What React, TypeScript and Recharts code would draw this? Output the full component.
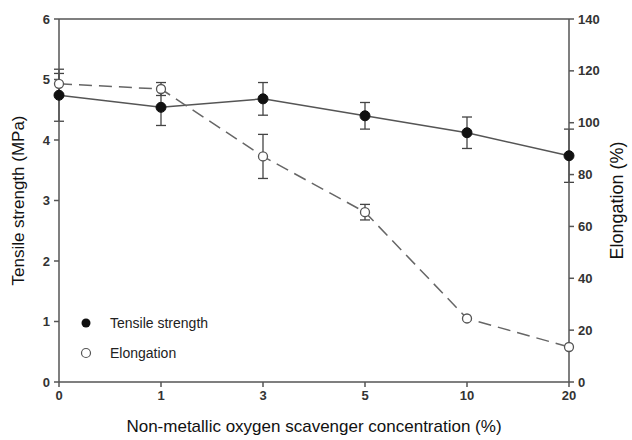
import { ComposedChart, Line, XAxis, YAxis, ErrorBar, ReferenceLine, Label } from "recharts";

const concentrations = ["0", "1", "3", "5", "10", "20"];
const tensileStrength = [4.74, 4.54, 4.68, 4.4, 4.12, 3.74];
const tensileError = [0.43, 0.3, 0.27, 0.22, 0.26, 0.44];
const elongation = [115, 113, 87, 65.5, 24.5, 13.5];
const elongationError = [4, 2.5, 8.5, 3, 0, 0];
const leftTicks = [0, 1, 2, 3, 4, 5, 6];
const rightTicks = [0, 20, 40, 60, 80, 100, 120, 140];

const data = concentrations.map((c, i) => ({
  conc: c,
  tensile: tensileStrength[i],
  tensileErr: tensileError[i],
  elong: elongation[i],
  elongErr: elongationError[i]
}));

const axisColor = "#555";
const font = "'Liberation Sans', Arial, sans-serif";
const tickStyle = { fontSize: 13, fill: "#333", fontFamily: font, fontWeight: 600 };

// legend sits inside the plot, bottom-left
function LegendBox() {
  return (
    <svg width={180} height={60} style={{ position: "absolute", left: 78, top: 312, fontFamily: font }}>
      <circle cx={8} cy={11} r={4.5} fill="#111" />
      <text x={32} y={16} fontSize={14} fill="#222">Tensile strength</text>
      <circle cx={8} cy={41} r={4.5} fill="#fff" stroke="#555" strokeWidth={1.2} />
      <text x={32} y={46} fontSize={14} fill="#222">Elongation</text>
    </svg>
  );
}

export default function App() {
  return (
    <div style={{ position: "absolute", left: 0, top: 0, width: 632, height: 440, background: "#fff" }}>
      <ComposedChart width={632} height={440} data={data} margin={{ top: 19, right: 0, bottom: 0, left: 0 }}>
        <XAxis
          dataKey="conc"
          scale="point"
          height={58}
          stroke={axisColor}
          strokeWidth={1.5}
          tickSize={5}
          tick={tickStyle}
          tickMargin={4}
        >
          <Label
            value="Non-metallic oxygen scavenger concentration (%)"
            position="insideBottom"
            offset={8}
            style={{ fontSize: 17, fill: "#111", fontFamily: font }}
          />
        </XAxis>
        <YAxis
          yAxisId="left"
          domain={[0, 6]}
          ticks={leftTicks}
          width={59}
          stroke={axisColor}
          strokeWidth={1.5}
          tickSize={5}
          tick={tickStyle}
          tickMargin={4}
        >
          <Label
            value="Tensile strength (MPa)"
            angle={-90}
            position="insideLeft"
            offset={18}
            style={{ textAnchor: "middle", fontSize: 17, fill: "#111", fontFamily: font }}
          />
        </YAxis>
        <YAxis
          yAxisId="right"
          orientation="right"
          domain={[0, 140]}
          ticks={rightTicks}
          width={63}
          stroke={axisColor}
          strokeWidth={1.5}
          tickSize={5}
          tick={tickStyle}
          tickMargin={4}
        >
          <Label
            value="Elongation (%)"
            angle={-90}
            position="insideRight"
            offset={15}
            style={{ textAnchor: "middle", fontSize: 18, fill: "#111", fontFamily: font }}
          />
        </YAxis>
        <ReferenceLine yAxisId="left" y={6} stroke={axisColor} strokeWidth={1.5} />
        {/* error bars first so the markers sit on top of them */}
        <Line yAxisId="left" dataKey="tensile" stroke="none" dot={false} activeDot={false} isAnimationActive={false}>
          <ErrorBar dataKey="tensileErr" direction="y" width={5} stroke="#444" strokeWidth={1.3} />
        </Line>
        <Line yAxisId="right" dataKey="elong" stroke="none" dot={false} activeDot={false} isAnimationActive={false}>
          <ErrorBar dataKey="elongErr" direction="y" width={5} stroke="#444" strokeWidth={1.3} />
        </Line>
        <Line
          yAxisId="left"
          dataKey="tensile"
          stroke="#555"
          strokeWidth={1.5}
          dot={{ r: 5, fill: "#111", stroke: "#111", strokeWidth: 1 }}
          isAnimationActive={false}
        />
        <Line
          yAxisId="right"
          dataKey="elong"
          stroke="#666"
          strokeWidth={1.5}
          strokeDasharray="13 7"
          dot={{ r: 4.5, fill: "#fff", stroke: "#555", strokeWidth: 1.3, strokeDasharray: "0" }}
          isAnimationActive={false}
        />
      </ComposedChart>
      <LegendBox />
    </div>
  );
}
